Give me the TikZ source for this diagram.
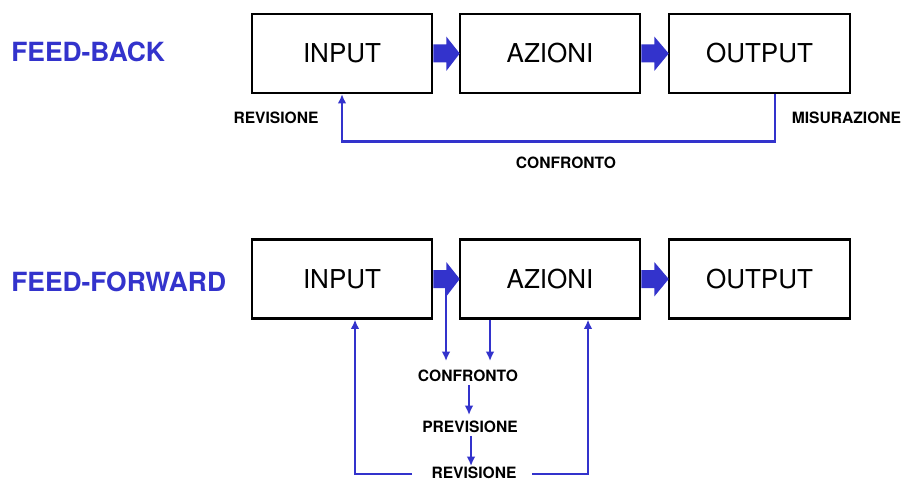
\documentclass[tikz,border=0pt]{standalone}
\usepackage{fontspec}
\setmainfont{TeX Gyre Heros}
\usetikzlibrary{arrows.meta,calc}
\definecolor{fbblue}{HTML}{3333CC}
\tikzset{
  blockbox/.style={draw=black,line width=1.9pt,minimum width=135pt,minimum height=59pt,
    font=\fontsize{19.5}{22}\selectfont,inner sep=0pt},
  heading/.style={text=fbblue,font=\fontsize{19.8}{22}\selectfont\bfseries,anchor=west,inner sep=0pt},
  tag/.style={font=\fontsize{11.7}{13}\selectfont\bfseries,inner sep=0pt},
  flow/.style={draw=fbblue,line width=2.2pt,-{Latex[length=7pt,width=6.5pt]}},
}
% thick block arrow from the east side of #1 to the west side of #2
\newcommand\blockarrow[2]{%
  \fill[fbblue] ($(#1.east)+(0,-9)$) -- ++(13,0) -- ++(0,-8) -- ($(#2.west)+(1,0)$)
    -- ($(#1.east)+(13,17.5)$) -- ++(0,-8.5) -- ($(#1.east)+(0,9)$) -- cycle;}
\begin{document}
\begin{tikzpicture}[x=0.75pt,y=-0.75pt]
\useasboundingbox[fill=white] (0,0) rectangle (902,481);

% feed-back scheme
\node[heading] (hfb) at (11,52) {FEED-BACK};
\node[blockbox] (in1)  at (342,53.5)   {INPUT};
\node[blockbox] (az1)  at (550,53.5)   {AZIONI};
\node[blockbox,minimum width=135.75pt] (out1) at (759.5,53.5) {OUTPUT};
\blockarrow{in1}{az1}
\blockarrow{az1}{out1}
\draw[flow] ($(out1.south)+(15.5,0)$) -- ++(0,47) -| (in1.south);
\node[tag] (rev1) at (276,118)   {REVISIONE};
\node[tag] (mis1) at (846.5,118) {MISURAZIONE};
\node[tag] (con1) at (566,163)   {CONFRONTO};

% feed-forward scheme
\node[heading] (hff) at (11,282) {FEED-FORWARD};
\node[blockbox] (in2)  at (342,279)   {INPUT};
\node[blockbox] (az2)  at (550,279)   {AZIONI};
\node[blockbox,minimum width=135.75pt] (out2) at (759.5,279) {OUTPUT};
\blockarrow{in2}{az2}
\blockarrow{az2}{out2}

\node[tag] (con2) at (468,376) {CONFRONTO};
\node[tag] (pre2) at (470,427) {PREVISIONE};
\node[tag] (rev2) at (474,473) {REVISIONE};

\coordinate (tap) at (446,287);
\draw[flow] (tap) -- (446,361);
\draw[flow] ($(az2.south)+(-60,0)$) -- (490,361);
\draw[flow,shorten <=2pt] (con2.south -| 469,0) -- (469,415);
\draw[flow,shorten <=2pt] (pre2.south -| 471,0) -- (471,466);

\coordinate (revL) at (412,474);
\coordinate (revR) at (532,474);
\draw[flow] (revL) -| ($(in2.south)+(13,0)$);
\draw[flow] (revR) -| ($(az2.south)+(38,0)$);
\end{tikzpicture}
\end{document}
